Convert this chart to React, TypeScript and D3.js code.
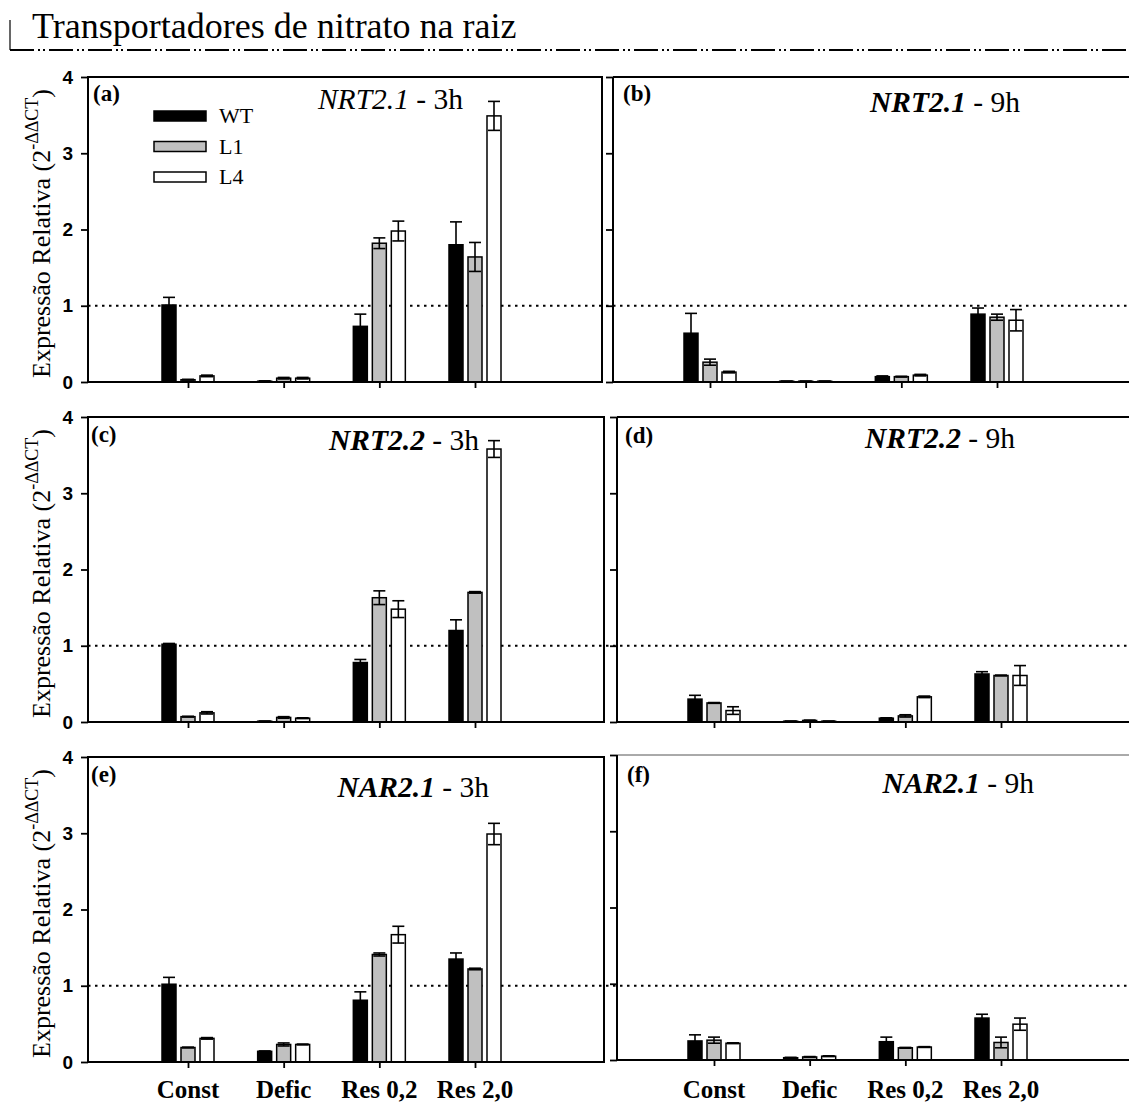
import React, { useEffect, useRef } from "react";
import * as d3 from "d3";

/** Categories, lines and tick values */
const categories = ["Const", "Defic", "Res 0,2", "Res 2,0"];
const lines = ["WT", "L1", "L4"];
const yTicks = [0, 1, 2, 3, 4];

/** Means [WT, L1, L4] x categories, and error half-widths, one pair per panel */
const nrt21h3 = [[1.01, 0.01, 0.73, 1.8], [0.03, 0.05, 1.82, 1.64], [0.08, 0.05, 1.98, 3.49]];
const nrt21h3Err = [[0.1, 0.005, 0.16, 0.3], [0.005, 0.01, 0.07, 0.19], [0.01, 0.01, 0.13, 0.19]];
const nrt21h9 = [[0.64, 0.01, 0.07, 0.89], [0.26, 0.01, 0.07, 0.85], [0.13, 0.01, 0.09, 0.81]];
const nrt21h9Err = [[0.26, 0, 0.01, 0.08], [0.04, 0, 0.005, 0.04], [0.01, 0, 0.01, 0.14]];
const nrt22h3 = [[1.02, 0.01, 0.78, 1.2], [0.07, 0.06, 1.63, 1.7], [0.12, 0.05, 1.48, 3.58]];
const nrt22h3Err = [[0.01, 0, 0.04, 0.14], [0.005, 0.01, 0.09, 0.01], [0.015, 0.005, 0.11, 0.11]];
const nrt22h9 = [[0.3, 0.01, 0.05, 0.63], [0.25, 0.02, 0.08, 0.61], [0.15, 0.01, 0.33, 0.61]];
const nrt22h9Err = [[0.05, 0, 0.005, 0.03], [0.005, 0.005, 0.015, 0.005], [0.05, 0, 0.01, 0.13]];
const nar21h3 = [[1.02, 0.14, 0.81, 1.35], [0.19, 0.23, 1.41, 1.22], [0.31, 0.23, 1.67, 2.99]];
const nar21h3Err = [[0.09, 0.005, 0.11, 0.08], [0.005, 0.02, 0.02, 0.01], [0.01, 0.005, 0.11, 0.14]];
const nar21h9 = [[0.25, 0.03, 0.24, 0.55], [0.26, 0.04, 0.16, 0.23], [0.22, 0.05, 0.17, 0.47]];
const nar21h9Err = [[0.08, 0.005, 0.06, 0.05], [0.04, 0.005, 0.005, 0.07], [0.005, 0.005, 0.005, 0.08]];

const genes = ["NRT2.1", "NRT2.1", "NRT2.2", "NRT2.2", "NAR2.1", "NAR2.1"];
const hours = ["3h", "9h", "3h", "9h", "3h", "9h"];
const letters = ["(a)", "(b)", "(c)", "(d)", "(e)", "(f)"];
const means = [nrt21h3, nrt21h9, nrt22h3, nrt22h9, nar21h3, nar21h9];
const errors = [nrt21h3Err, nrt21h9Err, nrt22h3Err, nrt22h9Err, nar21h3Err, nar21h9Err];

/** Layout of each panel */
const panels = [
  { left: 88, right: 602, top: 77, bottom: 382, titleX: 463, titleY: 109, letterX: 93, letterY: 101, boldGene: false },
  { left: 613, right: 1140, top: 77, bottom: 382, titleX: 1020, titleY: 112, letterX: 623, letterY: 101, boldGene: true },
  { left: 88, right: 604, top: 417, bottom: 722, titleX: 479, titleY: 450, letterX: 91, letterY: 442, boldGene: true },
  { left: 617, right: 1140, top: 417, bottom: 722, titleX: 1015, titleY: 448, letterX: 625, letterY: 443, boldGene: true },
  { left: 88, right: 604, top: 757, bottom: 1062, titleX: 489, titleY: 797, letterX: 91, letterY: 782, boldGene: true },
  { left: 617, right: 1140, top: 755, bottom: 1060, titleX: 1034, titleY: 793, letterX: 627, letterY: 782, boldGene: true, thinTop: true },
];

const fills = { WT: "#000000", L1: "#c0c0c0", L4: "#ffffff" };
const serif = "'Liberation Serif', 'Times New Roman', serif";
const sans = "'Liberation Sans', Arial, sans-serif";

const App = () => {
  const ref = useRef(null);

  useEffect(() => {
    const svg = d3.select(ref.current);
    svg.selectAll("*").remove();

    // Header title with dash-dot rule
    svg.append("text").attr("x", 32).attr("y", 38)
      .style("font-family", serif).style("font-size", "36px")
      .text("Transportadores de nitrato na raiz");
    svg.append("line").attr("x1", 10).attr("x2", 10).attr("y1", 20).attr("y2", 50)
      .attr("stroke", "#000").attr("stroke-width", 1.2);
    svg.append("line").attr("x1", 10).attr("x2", 1129).attr("y1", 50).attr("y2", 50)
      .attr("stroke", "#000").attr("stroke-width", 2)
      .attr("stroke-dasharray", "24,4,2,3,2,4");

    panels.forEach((p, i) => {
      const g = svg.append("g");
      const isLeft = i % 2 === 0;
      const y = d3.scaleLinear().domain([0, 4]).range([p.bottom, p.top]);
      const x = d3.scalePoint().domain(categories)
        .range(isLeft ? [p.left + 100, p.left + 387] : [p.left + 97, p.left + 384]);
      const xs = d3.scaleBand().domain(lines).range([-26, 26]).paddingInner(0.263);

      // Reference line at 1 (drawn once per row from the left panel)
      if (isLeft) {
        g.append("line").attr("x1", p.left).attr("x2", 1129)
          .attr("y1", y(1)).attr("y2", y(1))
          .attr("stroke", "#000").attr("stroke-width", 2)
          .attr("stroke-dasharray", "2.5,4.5");
      }

      // Bars
      lines.forEach((ln, s) => {
        g.selectAll(null).data(categories).join("rect")
          .attr("x", (c) => x(c) + xs(ln))
          .attr("width", xs.bandwidth())
          .attr("y", (c, k) => y(means[i][s][k]))
          .attr("height", (c, k) => p.bottom - y(means[i][s][k]))
          .attr("fill", fills[ln]).attr("stroke", "#000").attr("stroke-width", 1.5);
      });

      // Error bars
      lines.forEach((ln, s) => {
        categories.forEach((c, k) => {
          const cx = x(c) + xs(ln) + xs.bandwidth() / 2;
          const m = means[i][s][k];
          const e = errors[i][s][k];
          const y1 = y(m + e);
          const y2 = y(Math.max(0, m - e));
          g.append("line").attr("x1", cx).attr("x2", cx).attr("y1", y1).attr("y2", y2)
            .attr("stroke", "#000").attr("stroke-width", 1.6);
          [y1, y2].forEach((yy) => {
            g.append("line").attr("x1", cx - 6).attr("x2", cx + 6).attr("y1", yy).attr("y2", yy)
              .attr("stroke", "#000").attr("stroke-width", 1.6);
          });
        });
      });

      // Frame
      if (isLeft) {
        g.append("rect").attr("x", p.left).attr("y", p.top)
          .attr("width", p.right - p.left).attr("height", p.bottom - p.top)
          .attr("fill", "none").attr("stroke", "#000").attr("stroke-width", 2);
      } else {
        g.append("line").attr("x1", p.left).attr("x2", p.right).attr("y1", p.top).attr("y2", p.top)
          .attr("stroke", p.thinTop ? "#555" : "#000").attr("stroke-width", p.thinTop ? 1 : 2);
        g.append("line").attr("x1", p.left).attr("x2", p.left).attr("y1", p.top).attr("y2", p.bottom)
          .attr("stroke", "#000").attr("stroke-width", 2);
        g.append("line").attr("x1", p.left).attr("x2", p.right).attr("y1", p.bottom).attr("y2", p.bottom)
          .attr("stroke", "#000").attr("stroke-width", 2);
      }

      // Y axis ticks (labels only on the left column)
      const yAxis = g.append("g").attr("transform", `translate(${p.left},0)`)
        .call(d3.axisLeft(y).tickValues(yTicks).tickSize(7).tickPadding(8)
          .tickFormat(isLeft ? d3.format("d") : () => ""));
      yAxis.select(".domain").remove();
      yAxis.selectAll(".tick line").attr("stroke-width", 1.8);
      yAxis.selectAll(".tick text").style("font-family", sans)
        .style("font-size", "19px").style("font-weight", "bold").attr("fill", "#000");

      // X axis ticks
      const xAxis = g.append("g").attr("transform", `translate(0,${p.bottom})`)
        .call(d3.axisBottom(x).tickSize(6).tickFormat(() => ""));
      xAxis.select(".domain").remove();
      xAxis.selectAll(".tick line").attr("stroke-width", 1.8);

      // Category labels on the bottom row
      if (i >= 4) {
        g.selectAll(null).data(categories).join("text")
          .attr("x", (c) => x(c)).attr("y", 1098)
          .attr("text-anchor", "middle")
          .style("font-family", serif).style("font-size", "25px").style("font-weight", "bold")
          .text((c) => c);
      }

      // Panel letter
      g.append("text").attr("x", p.letterX).attr("y", p.letterY)
        .style("font-family", serif).style("font-size", "23px").style("font-weight", "bold")
        .text(letters[i]);

      // Gene title
      const t = g.append("text").attr("x", p.titleX).attr("y", p.titleY)
        .attr("text-anchor", "end")
        .style("font-family", serif).style("font-size", "29.5px");
      t.append("tspan").style("font-style", "italic")
        .style("font-weight", p.boldGene ? "bold" : "normal").text(genes[i]);
      t.append("tspan").text(" - " + hours[i]);

      // Y axis title
      if (isLeft) {
        const cy = (p.top + p.bottom) / 2;
        const lbl = g.append("text")
          .attr("transform", `translate(50,${cy + 4}) rotate(-90)`)
          .attr("text-anchor", "middle")
          .style("font-family", serif).style("font-size", "26px");
        lbl.append("tspan").text("Expressão Relativa (2");
        lbl.append("tspan").attr("dy", -12).style("font-size", "18px").text("-ΔΔCT");
        lbl.append("tspan").attr("dy", 12).text(")");
      }

      // Legend in first panel
      if (i === 0) {
        lines.forEach((ln, s) => {
          const ly = 111 + s * 30.5;
          g.append("rect").attr("x", 154).attr("y", ly).attr("width", 52).attr("height", 10)
            .attr("fill", fills[ln]).attr("stroke", "#000").attr("stroke-width", 1.5);
          g.append("text").attr("x", 219).attr("y", ly + 12)
            .style("font-family", serif).style("font-size", "22px").text(ln);
        });
      }
    });
  }, []);

  return (
    <svg
      ref={ref}
      width={1129}
      height={1106}
      style={{ position: "absolute", left: 0, top: 0, background: "#fff" }}
    ></svg>
  );
};

export default App;
